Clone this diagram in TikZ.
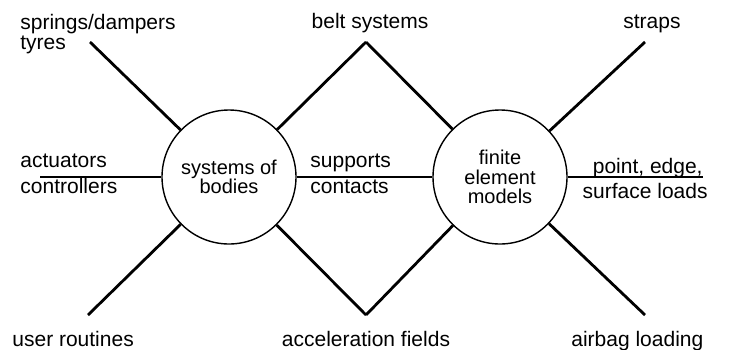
\documentclass[tikz,border=0pt]{standalone}
\usepackage{fontspec}
\setmainfont{Liberation Sans}

\begin{document}
\begin{tikzpicture}[x=0.5pt,y=-0.5pt,
        main node/.style={circle,draw,line width=0.7pt,minimum size=67pt,inner sep=0pt,
            align=center,font=\fontsize{10}{9.6}\selectfont},
        label node/.style={inner sep=0pt,font=\fontsize{10.5}{12}\selectfont},
        arm/.style={line width=1.4pt},
        bar/.style={line width=0.7pt}]

    \useasboundingbox (0,0) rectangle (733,349);

    \node[main node] (bodies) at (229,177) {systems of\\bodies};
    \node[main node] (fem) at (500,177) {finite\\element\\models};

    % free ends of the connectors
    \coordinate (tl) at (90,42);
    \coordinate (tm) at (366,42);
    \coordinate (tr) at (645,42);
    \coordinate (bl) at (88,315);
    \coordinate (bm) at (366,315);
    \coordinate (br) at (645,315);
    \coordinate (ml) at (40,177);
    \coordinate (mr) at (703,177);

    \path[arm]
    (tl) edge (bodies)
    (tm) edge (bodies)
    (tm) edge (fem)
    (tr) edge (fem)
    (bl) edge (bodies)
    (bm) edge (bodies)
    (bm) edge (fem)
    (br) edge (fem);
    \path[bar]
    (ml) edge (bodies)
    (bodies) edge (fem)
    (fem) edge (mr);

    \node[label node,anchor=base west] (springs) at (20,29) {springs/dampers};
    \node[label node,anchor=base west] (tyres) at (20,49) {tyres};
    \node[label node,anchor=base] (belts) at (370,28) {belt systems};
    \node[label node,anchor=base west] (straps) at (623,28) {straps};
    \node[label node,anchor=base west] (actuators) at (20,167) {actuators};
    \node[label node,anchor=base west] (controllers) at (20,193) {controllers};
    \node[label node,anchor=base west] (supports) at (310,167) {supports};
    \node[label node,anchor=base west] (contacts) at (310,193) {contacts};
    \node[label node,anchor=base east] (pointloads) at (703,173) {point, edge,};
    \node[label node,anchor=base east] (surfloads) at (708,198) {surface loads};
    \node[label node,anchor=base west] (routines) at (12,346) {user routines};
    \node[label node,anchor=base] (accel) at (366,346) {acceleration fields};
    \node[label node,anchor=base west] (airbag) at (571,346) {airbag loading};

\end{tikzpicture}
\end{document}
